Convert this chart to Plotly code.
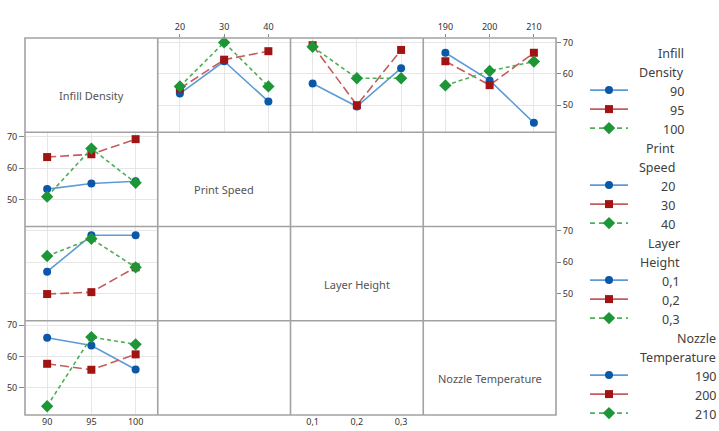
import plotly.graph_objects as go

# ---------------- data ----------------
factor_names = ["Infill Density", "Print Speed", "Layer Height", "Nozzle Temperature"]
legend_titles = [["Infill", "Density"], ["Print", "Speed"], ["Layer", "Height"], ["Nozzle", "Temperature"]]
infill_levels = ["90", "95", "100"]
speed_levels = ["20", "30", "40"]
layer_levels = ["0,1", "0,2", "0,3"]
nozzle_levels = ["190", "200", "210"]

# Row 1: lines = Infill Density levels (90, 95, 100)
infill_by_speed = [[53.7, 64.0, 51.2], [55.3, 64.5, 67.2], [56.0, 70.0, 56.0]]
infill_by_layer = [[56.9, 49.6, 61.8], [69.1, 50.0, 67.6], [68.6, 58.6, 58.6]]
infill_by_nozzle = [[66.7, 57.9, 44.4], [64.0, 56.4, 66.7], [56.3, 60.9, 63.9]]
# Column 1: x = Infill Density, lines = other factor levels
speed_by_infill = [[53.3, 55.1, 55.8], [63.5, 64.4, 69.2], [50.9, 66.2, 55.3]]
layer_by_infill = [[57.0, 68.6, 68.6], [49.9, 50.5, 58.4], [62.0, 67.5, 58.4]]
nozzle_by_infill = [[66.0, 63.5, 55.9], [57.7, 55.8, 60.7], [44.2, 66.2, 63.9]]
y_ticks = [50, 60, 70]

group_levels = [infill_levels, speed_levels, layer_levels, nozzle_levels]

# ---------------- styles ----------------
marker_colors = ["#0b57a8", "#a01414", "#1c9636"]
line_colors = ["#5e9bd6", "#c45c5c", "#4fae55"]
dashes = ["solid", "9px,4px", "4px,3px"]
symbols = ["circle", "square", "diamond"]
msizes = [8, 8, 9.5]

FONT = "Noto Sans"
W, H = 719, 431
ML, MR, MT, MB = 25, 0, 38, 16
PW = W - ML - MR
PH = H - MT - MB
GW = (556 - ML) / PW   # grid width as paper fraction
CW = GW / 4
RH = 0.25
GRID = "#e6e6e6"
BORDER = "#a2a2a2"
YR = [41.4, 71.4]

# panel: (row, col, x levels, series, legend-factor index, xlabels, ylabels)
panels = [
    (1, 2, speed_levels, infill_by_speed, 0, "top", None),
    (1, 3, layer_levels, infill_by_layer, 0, "bottomfree", None),
    (1, 4, nozzle_levels, infill_by_nozzle, 0, "top", "right"),
    (2, 1, infill_levels, speed_by_infill, 1, None, "left"),
    (3, 1, infill_levels, layer_by_infill, 2, None, "rightfree"),
    (4, 1, infill_levels, nozzle_by_infill, 3, "bottom", "left"),
]

fig = go.Figure()
layout = {}
tickfont = dict(family=FONT, size=9, color="#333333")

for i, (r, c, xlev, series, gi, xl, yl) in enumerate(panels):
    n = i + 1
    sfx = "" if n == 1 else str(n)
    xdom = [(c - 1) * CW, c * CW]
    ydom = [1 - r * RH, 1 - (r - 1) * RH]
    xa = dict(domain=xdom, type="category", categoryorder="array", categoryarray=xlev,
              range=[-0.5, 2.5], showgrid=True, gridcolor=GRID, gridwidth=1,
              zeroline=False, showline=False, anchor="y" + sfx, fixedrange=True,
              tickfont=tickfont)
    if xl is None:
        xa.update(showticklabels=False, ticks="")
    elif xl == "top":
        xa.update(side="top", ticks="outside", ticklen=3, tickcolor="#888888")
    elif xl == "bottom":
        xa.update(side="bottom", ticks="")
    else:
        xa.update(side="bottom", anchor="free", position=0, ticks="")
    ya = dict(domain=ydom, range=YR, tickvals=y_ticks, showgrid=True, gridcolor=GRID,
              gridwidth=1, zeroline=False, showline=False, anchor="x" + sfx,
              fixedrange=True, tickfont=tickfont)
    if yl is None:
        ya.update(showticklabels=False, ticks="")
    elif yl == "left":
        ya.update(side="left", ticks="outside", ticklen=5, tickcolor="#888888")
    elif yl == "right":
        ya.update(side="right", ticks="outside", ticklen=4, tickcolor="#888888")
    else:
        ya.update(side="right", anchor="free", position=GW, ticks="outside",
                  ticklen=4, tickcolor="#888888")
    layout["xaxis" + sfx] = xa
    layout["yaxis" + sfx] = ya
    for k, vals in enumerate(series):
        fig.add_trace(go.Scatter(
            x=xlev, y=vals, xaxis="x" + sfx, yaxis="y" + sfx, mode="lines+markers",
            line=dict(color=line_colors[k], width=1.6, dash=dashes[k]),
            marker=dict(symbol=symbols[k], size=msizes[k], color=marker_colors[k],
                        line=dict(width=0)),
            name=group_levels[gi][k], showlegend=False, hoverinfo="x+y", cliponaxis=False))

# ---------- legend drawn on a pixel-coordinate axis in the right-hand strip ----------
LX = "x7"
LY = "y7"
LEG_X0 = 580
layout["xaxis7"] = dict(domain=[(LEG_X0 - ML) / PW, 1], range=[LEG_X0, W - MR],
                        visible=False, fixedrange=True)
layout["yaxis7"] = dict(domain=[0, 1], range=[H - MB, MT], visible=False, fixedrange=True)

row0, rstep = 53.6, 19.0
line_x0, line_x1, mark_x = 590, 628, 609
group_right = [686, 677, 681.5, 718]
annotations = []
lfont = dict(family=FONT, size=12.5, color="#404040")
for g in range(4):
    base = g * 5
    for t, word in enumerate(legend_titles[g]):
        annotations.append(dict(x=group_right[g], y=row0 + rstep * (base + t), xref=LX, yref=LY,
                                text=word, showarrow=False, xanchor="right", yanchor="middle",
                                font=lfont))
    for k in range(3):
        yt = row0 + rstep * (base + 2 + k)
        yline = yt - 1.5
        fig.add_trace(go.Scatter(
            x=[line_x0, line_x1], y=[yline, yline], xaxis=LX, yaxis=LY, mode="lines",
            line=dict(color=line_colors[k], width=1.6, dash=("5px,4px" if k == 2 else "solid")),
            showlegend=False, hoverinfo="skip", cliponaxis=False))
        fig.add_trace(go.Scatter(
            x=[mark_x], y=[yline], xaxis=LX, yaxis=LY, mode="markers",
            marker=dict(symbol=symbols[k], size=msizes[k], color=marker_colors[k]),
            showlegend=False, hoverinfo="skip", cliponaxis=False))
        annotations.append(dict(x=group_right[g], y=yt, xref=LX, yref=LY,
                                text=group_levels[g][k], showarrow=False,
                                xanchor="right", yanchor="middle", font=lfont))

# ---------- diagonal factor labels ----------
dfont = dict(family=FONT, size=11, color="#555555")
for d, name in enumerate(factor_names):
    annotations.append(dict(x=(d + 0.5) * CW, y=1 - (d + 0.5) * RH - 10.5 / PH,
                            xref="paper", yref="paper", text=name, showarrow=False,
                            xanchor="center", yanchor="middle", font=dfont))

# ---------- panel borders ----------
shapes = [dict(type="rect", xref="paper", yref="paper", x0=0, x1=GW, y0=0, y1=1,
               line=dict(color=BORDER, width=1.6), layer="above")]
for k in range(1, 4):
    shapes.append(dict(type="line", xref="paper", yref="paper", x0=k * CW, x1=k * CW,
                       y0=0, y1=1, line=dict(color=BORDER, width=1.6), layer="above"))
    shapes.append(dict(type="line", xref="paper", yref="paper", x0=0, x1=GW,
                       y0=k * RH, y1=k * RH, line=dict(color=BORDER, width=1.6), layer="above"))

fig.update_layout(
    width=W, height=H,
    margin=dict(l=ML, r=MR, t=MT, b=MB, autoexpand=False),
    paper_bgcolor="white", plot_bgcolor="rgba(0,0,0,0)",
    showlegend=False,
    annotations=annotations, shapes=shapes,
    font=dict(family=FONT),
    **layout,
)

fig.write_html("out.html", config={"displayModeBar": False},
               post_script="document.body.style.margin='0';document.body.style.overflow='hidden';")
